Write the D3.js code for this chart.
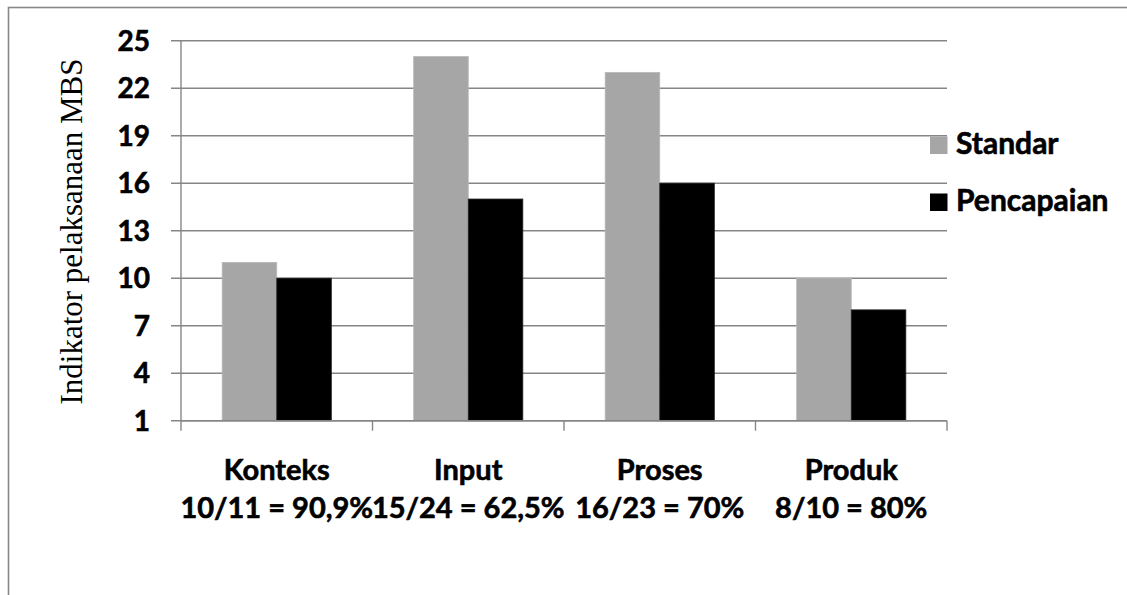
<!DOCTYPE html>
<html>
<head>
<meta charset="utf-8">
<script src="https://cdn.jsdelivr.net/npm/d3@7"></script>
<style>
  html, body { margin: 0; padding: 0; background: #fff; }
  svg { display: block; }
</style>
</head>
<body>
<svg id="chart" width="1127" height="595"></svg>
<script>
const categories = ["Konteks", "Input", "Proses", "Produk"];
const categoryNotes = ["10/11 = 90,9%", "15/24 = 62,5%", "16/23 = 70%", "8/10 = 80%"];
const seriesNames = ["Standar", "Pencapaian"];
const standar = [11, 24, 23, 10];
const pencapaian = [10, 15, 16, 8];
const yTicks = [1, 4, 7, 10, 13, 16, 19, 22, 25];
const yLabel = "Indikator pelaksanaan MBS";

const colors = ["#a6a6a6", "#000000"];
const gridColor = "#868686";
const boldFont = "Lato, 'Open Sans', sans-serif";

const svg = d3.select("#chart");

function boldText(sel, size) {
  return sel.attr("font-family", boldFont).attr("font-weight", "bold")
    .attr("font-size", size).attr("fill", "#000")
    .attr("stroke", "#000").attr("stroke-width", 0.6);
}

// outer frame (right/bottom edges lie outside the picture)
svg.append("rect")
  .attr("x", 8.5).attr("y", 7.5)
  .attr("width", 1200).attr("height", 700)
  .attr("fill", "#fff").attr("stroke", "#888").attr("stroke-width", 1.6);

const x0 = 181, x1 = 947, yTop = 40.7, yBot = 420.7;

const x = d3.scaleBand().domain(categories).range([x0, x1]).padding(0);
const y = d3.scaleLinear().domain([1, 25]).range([yBot, yTop]);

// gridlines
svg.append("g").selectAll("line").data(yTicks).join("line")
  .attr("x1", x0 - 10).attr("x2", x1)
  .attr("y1", d => y(d)).attr("y2", d => y(d))
  .attr("stroke", gridColor).attr("stroke-width", 1.4);

// y axis line
svg.append("line").attr("x1", x0).attr("x2", x0).attr("y1", yTop).attr("y2", yBot)
  .attr("stroke", gridColor).attr("stroke-width", 1.4);

// x axis ticks
const xTickPos = categories.map(c => x(c)).concat([x1]);
svg.append("g").selectAll("line").data(xTickPos).join("line")
  .attr("x1", d => d).attr("x2", d => d)
  .attr("y1", yBot).attr("y2", yBot + 10)
  .attr("stroke", gridColor).attr("stroke-width", 1.4);

// bars
const innerW = x.bandwidth() * 0.57;
const barW = innerW / 2;
const series = [standar, pencapaian];
series.forEach((vals, si) => {
  svg.append("g").selectAll("rect").data(categories).join("rect")
    .attr("x", (c) => x(c) + (x.bandwidth() - innerW) / 2 + si * barW)
    .attr("y", (c, i) => y(vals[i]))
    .attr("width", barW)
    .attr("height", (c, i) => yBot - y(vals[i]))
    .attr("fill", colors[si])
    .attr("stroke", si === 0 ? "#b8b8b8" : "#222")
    .attr("stroke-width", 0.8);
});

// x axis line on top
svg.append("line").attr("x1", x0).attr("x2", x1).attr("y1", yBot).attr("y2", yBot)
  .attr("stroke", gridColor).attr("stroke-width", 1.4);

// y tick labels
boldText(svg.append("g").selectAll("text").data(yTicks).join("text")
  .attr("x", 150).attr("y", d => y(d) + 10)
  .attr("text-anchor", "end"), 28)
  .text(d => d);

// category labels
const catG = svg.append("g");
categories.forEach((c, i) => {
  const cx = x(c) + x.bandwidth() / 2;
  boldText(catG.append("text").attr("x", cx).attr("y", 480)
    .attr("text-anchor", "middle"), 29)
    .text(c);
  boldText(catG.append("text").attr("x", cx).attr("y", 518)
    .attr("text-anchor", "middle"), 29)
    .text(categoryNotes[i]);
});

// y axis title
svg.append("text")
  .attr("transform", "translate(82,231.5) rotate(-90)")
  .attr("text-anchor", "middle")
  .attr("font-family", "'Liberation Serif', 'Times New Roman', serif")
  .attr("font-size", 31)
  .text(yLabel);

// legend
const legend = svg.append("g");
const legY = [154, 211];
seriesNames.forEach((n, i) => {
  legend.append("rect").attr("x", 930).attr("y", legY[i] - 17.5)
    .attr("width", 17.5).attr("height", 17.5).attr("fill", colors[i]);
  boldText(legend.append("text").attr("x", 956).attr("y", legY[i]), 30)
    .text(n);
});
</script>
</body>
</html>
